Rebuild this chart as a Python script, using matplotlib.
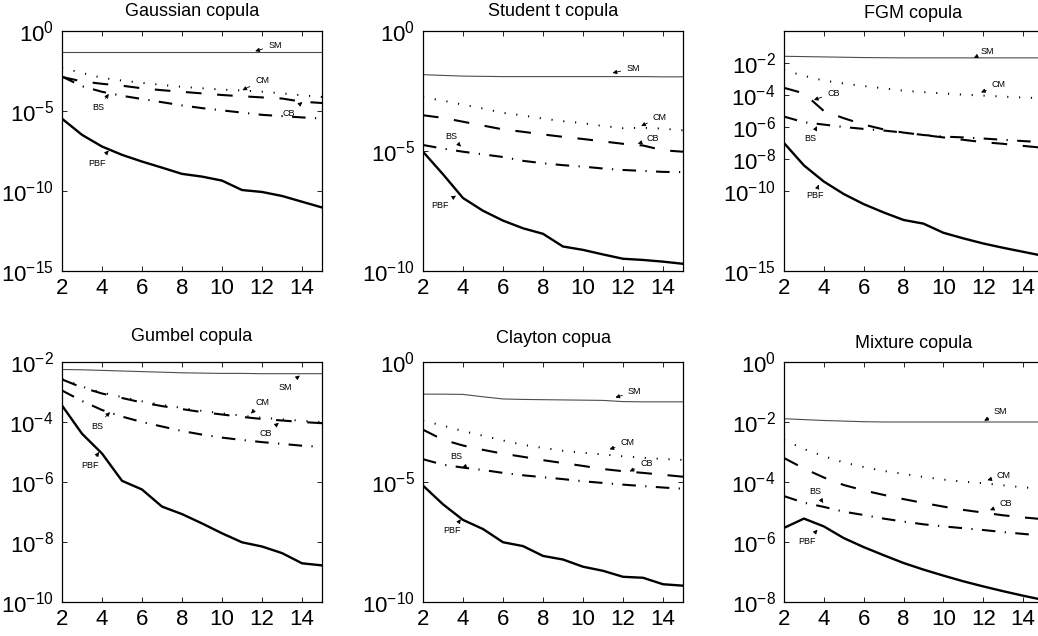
import numpy as np
import matplotlib
matplotlib.use('Agg')
import matplotlib.pyplot as plt
from matplotlib.ticker import FixedLocator, FuncFormatter, NullLocator

plt.rcParams['font.family'] = ['Liberation Sans', 'DejaVu Sans']
plt.rcParams['mathtext.fontset'] = 'custom'
plt.rcParams['mathtext.rm'] = 'Liberation Sans'
plt.rcParams['mathtext.it'] = 'Liberation Sans:italic'
plt.rcParams['mathtext.bf'] = 'Liberation Sans:bold'

# ---------------- data (log10 of the plotted values) ----------------
x_vals = list(range(2, 16))
x_ticks = [2, 4, 6, 8, 10, 12, 14]

titles = ['Gaussian copula', 'Student t copula', 'FGM copula',
          'Gumbel copula', 'Clayton copua', 'Mixture copula']

gauss_sm = [-1.30] * 14
gauss_cm = [-2.30, -2.62, -2.93, -3.10, -3.24, -3.37, -3.49, -3.58, -3.66, -3.72, -3.79, -3.90, -4.02, -4.12]
gauss_cb = [-2.87, -3.15, -3.30, -3.42, -3.58, -3.70, -3.80, -3.90, -4.00, -4.08, -4.15, -4.22, -4.42, -4.50]
gauss_bs = [-2.85, -3.45, -3.80, -4.05, -4.25, -4.45, -4.65, -4.82, -4.96, -5.10, -5.24, -5.32, -5.40, -5.47]
gauss_pbf = [-5.48, -6.49, -7.22, -7.74, -8.16, -8.54, -8.93, -9.10, -9.35, -9.94, -10.06, -10.31, -10.67, -11.03]

stud_sm = [-1.82, -1.85, -1.88, -1.89, -1.90, -1.90, -1.90, -1.90, -1.90, -1.90, -1.90, -1.90, -1.91, -1.91]
stud_cm = [-2.76, -2.90, -3.07, -3.23, -3.41, -3.52, -3.65, -3.76, -3.84, -3.96, -4.05, -4.03, -4.07, -4.14]
stud_cb = [-3.51, -3.62, -3.78, -3.94, -4.10, -4.20, -4.31, -4.41, -4.50, -4.60, -4.70, -4.77, -4.97, -5.03]
stud_bs = [-4.75, -4.90, -5.03, -5.14, -5.25, -5.41, -5.51, -5.59, -5.65, -5.73, -5.79, -5.83, -5.87, -5.88]
stud_pbf = [-5.03, -5.97, -6.96, -7.49, -7.90, -8.22, -8.45, -8.98, -9.12, -9.31, -9.49, -9.54, -9.61, -9.70]

fgm_sm = [-1.58, -1.60, -1.62, -1.64, -1.66, -1.67, -1.68, -1.68, -1.68, -1.68, -1.68, -1.68, -1.68, -1.68]
fgm_cm = [-2.45, -2.80, -3.10, -3.28, -3.44, -3.58, -3.73, -3.82, -3.90, -3.98, -4.04, -4.10, -4.16, -4.20]
fgm_cb = [-3.55, -3.90, -5.00, -5.45, -5.85, -6.15, -6.35, -6.50, -6.65, -6.80, -6.95, -7.05, -7.18, -7.30]
fgm_bs = [-5.35, -5.70, -5.85, -6.00, -6.12, -6.22, -6.35, -6.50, -6.60, -6.65, -6.72, -6.80, -6.88, -6.95]
fgm_pbf = [-7.00, -8.40, -9.41, -10.19, -10.82, -11.34, -11.81, -12.04, -12.61, -12.96, -13.28, -13.55, -13.80, -14.05]

gum_sm = [-2.25, -2.26, -2.28, -2.30, -2.32, -2.34, -2.36, -2.37, -2.38, -2.38, -2.39, -2.39, -2.39, -2.39]
gum_cm = [-2.55, -2.82, -3.02, -3.17, -3.31, -3.43, -3.53, -3.63, -3.71, -3.79, -3.86, -3.91, -3.96, -4.00]
gum_cb = [-2.58, -2.85, -3.05, -3.20, -3.35, -3.47, -3.57, -3.67, -3.75, -3.83, -3.90, -3.95, -4.00, -4.04]
gum_bs = [-2.95, -3.30, -3.60, -3.82, -4.00, -4.15, -4.30, -4.42, -4.52, -4.60, -4.67, -4.73, -4.79, -4.83]
gum_pbf = [-3.45, -4.39, -5.05, -5.96, -6.25, -6.82, -7.07, -7.38, -7.71, -8.01, -8.15, -8.37, -8.71, -8.78]

clay_sm = [-1.34, -1.34, -1.35, -1.45, -1.54, -1.56, -1.57, -1.58, -1.59, -1.60, -1.65, -1.66, -1.66, -1.66]
clay_cm = [-2.45, -2.65, -2.88, -3.07, -3.27, -3.45, -3.58, -3.70, -3.78, -3.85, -3.93, -3.99, -4.04, -4.08]
clay_cb = [-2.82, -3.24, -3.48, -3.66, -3.82, -3.95, -4.09, -4.21, -4.33, -4.46, -4.55, -4.62, -4.70, -4.78]
clay_bs = [-4.05, -4.28, -4.40, -4.50, -4.62, -4.72, -4.80, -4.88, -4.97, -5.04, -5.11, -5.17, -5.23, -5.28]
clay_pbf = [-5.15, -5.93, -6.58, -6.96, -7.51, -7.67, -8.08, -8.23, -8.53, -8.70, -8.95, -8.99, -9.26, -9.32]

mix_sm = [-1.89, -1.92, -1.95, -1.97, -1.99, -2.00, -2.00, -2.00, -2.00, -2.00, -2.00, -2.00, -2.00, -2.00]
mix_cm = [-2.60, -2.90, -3.14, -3.35, -3.50, -3.63, -3.73, -3.83, -3.92, -3.99, -4.04, -4.11, -4.18, -4.22]
mix_cb = [-3.20, -3.55, -3.85, -4.10, -4.28, -4.43, -4.57, -4.70, -4.82, -4.93, -5.02, -5.11, -5.18, -5.24]
mix_bs = [-4.47, -4.69, -4.83, -4.99, -5.10, -5.22, -5.32, -5.41, -5.48, -5.54, -5.60, -5.67, -5.73, -5.79]
mix_pbf = [-5.53, -5.22, -5.48, -5.87, -6.17, -6.44, -6.70, -6.92, -7.12, -7.31, -7.48, -7.64, -7.79, -7.93]

ylims = [(-15, 0), (-10, 0), (-15, 0), (-10, -2), (-10, 0), (-8, 0)]
yticks = [[0, -5, -10, -15], [0, -5, -10], [-2, -4, -6, -8, -10, -15],
          [-2, -4, -6, -8, -10], [0, -5, -10], [0, -2, -4, -6, -8]]

# annotations: label, (text x, text log y), (tip x, tip log y)
gauss_notes = [('SM', (12.64, -0.9), (11.66, -1.26)), ('CM', (12.0, -3.08), (11.02, -3.70)),
               ('BS', (3.83, -4.81), (4.34, -3.93)), ('CB', (13.35, -5.13), (14.02, -4.44)),
               ('PBF', (3.75, -8.26), (4.34, -7.47))]
stud_notes = [('SM', (12.49, -1.55), (11.48, -1.75)), ('CM', (13.83, -3.59), (12.91, -3.96)),
              ('CB', (13.5, -4.48), (12.74, -4.70)), ('BS', (3.4, -4.38), (3.9, -4.82)),
              ('PBF', (2.86, -7.28), (3.65, -6.86))]
fgm_notes = [('SM', (12.21, -1.26), (11.53, -1.68)), ('CM', (12.78, -3.36), (11.89, -3.84)),
             ('CB', (4.48, -3.89), (3.5, -4.31)), ('BS', (3.34, -6.72), (3.66, -5.95)),
             ('PBF', (3.55, -10.29), (3.74, -9.60))]
gum_notes = [('SM', (13.17, -2.84), (13.89, -2.45)), ('CM', (12.0, -3.34), (11.45, -3.72)),
             ('BS', (3.74, -4.14), (4.4, -3.67)), ('CB', (12.17, -4.39), (12.84, -4.03)),
             ('PBF', (3.4, -5.46), (3.85, -5.0))]
clay_notes = [('SM', (12.58, -1.23), (11.62, -1.48)), ('CM', (12.22, -3.36), (11.33, -3.64)),
              ('CB', (13.17, -4.22), (12.33, -4.56)), ('BS', (3.64, -3.92), (4.22, -4.45)),
              ('PBF', (3.47, -7.03), (3.89, -6.55))]
mix_notes = [('SM', (12.86, -1.64), (12.05, -1.96)), ('CM', (13.03, -3.77), (12.21, -3.94)),
             ('CB', (13.11, -4.72), (12.34, -4.94)), ('BS', (3.57, -4.31), (3.97, -4.7)),
             ('PBF', (3.16, -5.98), (3.68, -5.59))]

panels_data = [
    (gauss_sm, gauss_cm, gauss_cb, gauss_bs, gauss_pbf, gauss_notes),
    (stud_sm, stud_cm, stud_cb, stud_bs, stud_pbf, stud_notes),
    (fgm_sm, fgm_cm, fgm_cb, fgm_bs, fgm_pbf, fgm_notes),
    (gum_sm, gum_cm, gum_cb, gum_bs, gum_pbf, gum_notes),
    (clay_sm, clay_cm, clay_cb, clay_bs, clay_pbf, clay_notes),
    (mix_sm, mix_cm, mix_cb, mix_bs, mix_pbf, mix_notes),
]

# ---------------- layout (pixels) ----------------
W, H = 1038, 636
cols = [(62, 260), (423, 260), (784, 259)]
rows = [(31, 271), (362, 602)]
title_pads = [11, 11, 9.5, 15, 14, 10]

fig = plt.figure(figsize=(W / 100, H / 100), dpi=100)

fmt = FuncFormatter(lambda v, p: r'$\mathdefault{10^{%d}}$' % int(round(np.log10(v))))

for i, (title, pdata) in enumerate(zip(titles, panels_data)):
    r, c = divmod(i, 3)
    left, width = cols[c]
    top, bottom = rows[r]
    ax = fig.add_axes([left / W, (H - bottom) / H, width / W, (bottom - top) / H])
    sm, cm, cb, bs, pbf, notes = pdata
    xv = np.array(x_vals)
    ax.plot(xv, 10 ** np.array(sm), color='0.3', lw=0.8, ls='-')
    ax.plot(xv, 10 ** np.array(cm), color='k', lw=1.4, ls=(0, (0.6, 5.5)))
    ax.plot(xv, 10 ** np.array(cb), color='k', lw=1.5, ls=(0, (7.5, 7.5)))
    ax.plot(xv, 10 ** np.array(bs), color='k', lw=1.5, ls=(0, (6.5, 4.5, 0.6, 4.5)))
    ax.plot(xv, 10 ** np.array(pbf), color='k', lw=1.7, ls='-')
    ax.set_yscale('log')
    ax.set_xlim(2, 15)
    lo, hi = ylims[i]
    ax.set_ylim(10.0 ** lo, 10.0 ** hi)
    ax.xaxis.set_major_locator(FixedLocator(x_ticks))
    ax.yaxis.set_major_locator(FixedLocator([10.0 ** t for t in yticks[i]]))
    ax.yaxis.set_minor_locator(NullLocator())
    ax.xaxis.set_minor_locator(NullLocator())
    ax.yaxis.set_major_formatter(fmt)
    ax.tick_params(axis='both', which='major', direction='in', length=3.5, width=0.6,
                   top=True, right=True, labelsize=16)
    ax.tick_params(axis='x', pad=5)
    ax.tick_params(axis='y', pad=6)
    for s in ax.spines.values():
        s.set_linewidth(0.9)
    ax.set_title(title, fontsize=13, pad=title_pads[i])
    for lab, (tx, ty), (px, py) in notes:
        ax.annotate(lab, xy=(px, 10.0 ** py), xytext=(tx, 10.0 ** ty),
                    fontsize=6.5, ha='center', va='center',
                    arrowprops=dict(arrowstyle='-|>', color='k', lw=0.6,
                                    mutation_scale=6, shrinkA=2, shrinkB=0))

fig.savefig('out.png', dpi=100)
